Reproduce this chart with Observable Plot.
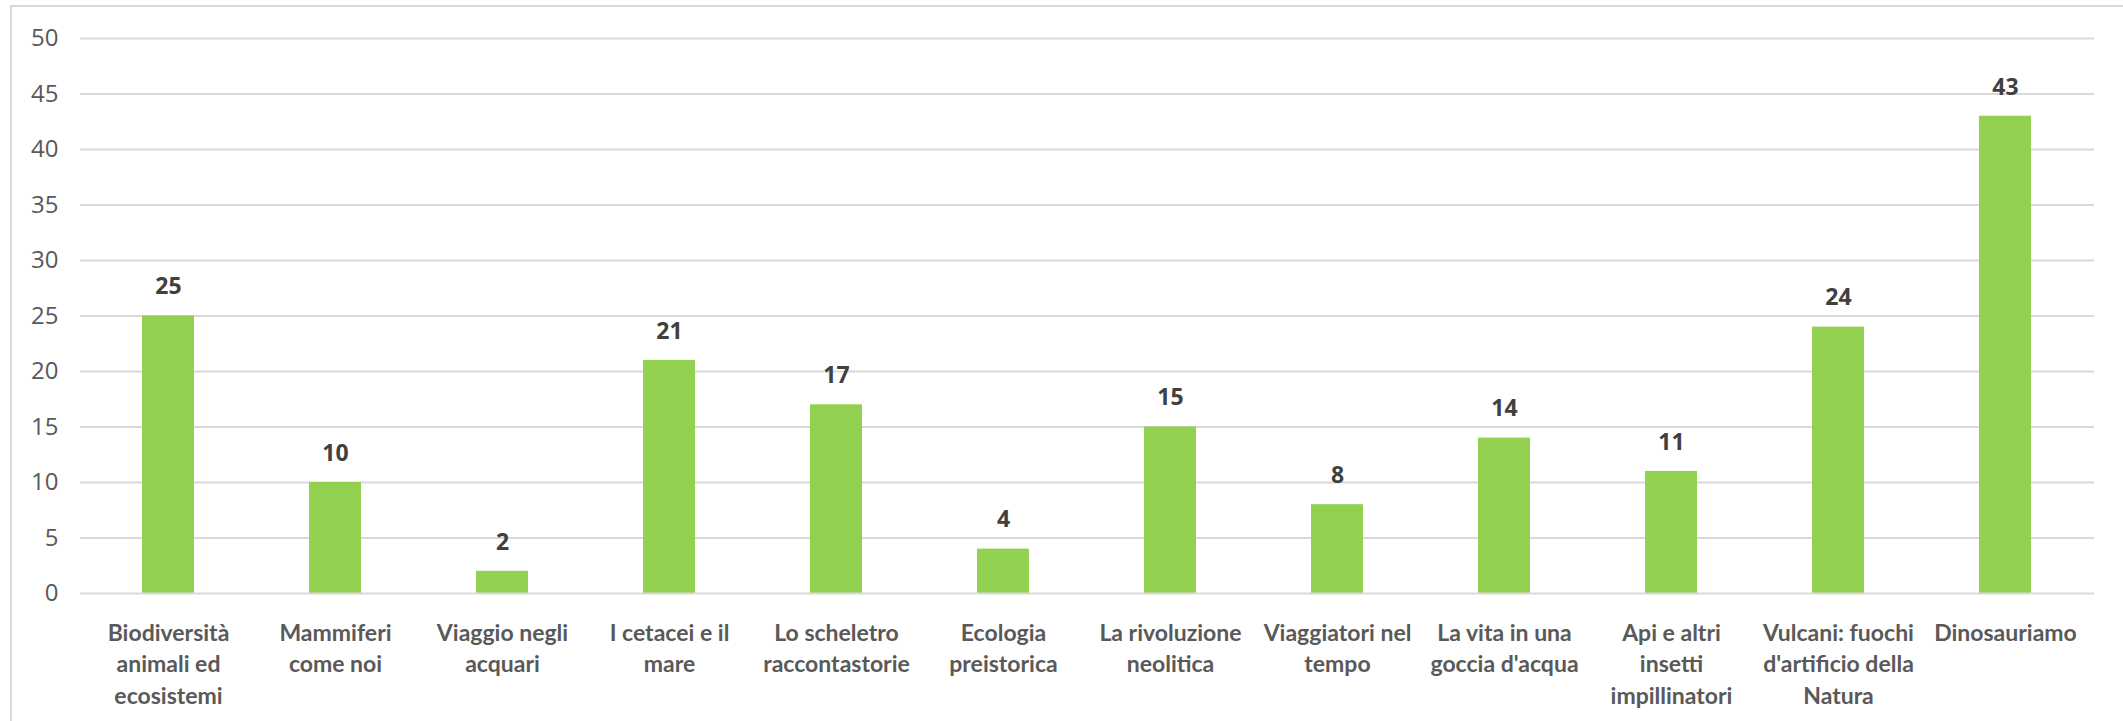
<!DOCTYPE html>
<html>
<head>
<meta charset="utf-8">
<script src="https://cdn.jsdelivr.net/npm/d3@7"></script>
<script src="https://cdn.jsdelivr.net/npm/@observablehq/plot@0.6"></script>
<style>
  html, body { margin: 0; padding: 0; background: #fff; }
  #frame { position: absolute; left: 0; top: 0; width: 2123px; height: 721px; overflow: hidden; }
  #border { position: absolute; left: 10px; top: 5px; width: 2123px; height: 760px; border-left: 2px solid #d9d9d9; border-top: 2px solid #d9d9d9; pointer-events: none; }
</style>
</head>
<body>
<div id="frame"><div id="border"></div></div>
<script>
const categories = [
  "Biodiversità animali ed ecosistemi",
  "Mammiferi come noi",
  "Viaggio negli acquari",
  "I cetacei e il mare",
  "Lo scheletro raccontastorie",
  "Ecologia preistorica",
  "La rivoluzione neolitica",
  "Viaggiatori nel tempo",
  "La vita in una goccia d'acqua",
  "Api e altri insetti impillinatori",
  "Vulcani: fuochi d'artificio della Natura",
  "Dinosauriamo"
];
const tickLabels = [
  "Biodiversità\nanimali ed\necosistemi",
  "Mammiferi\ncome noi",
  "Viaggio negli\nacquari",
  "I cetacei e il\nmare",
  "Lo scheletro\nraccontastorie",
  "Ecologia\npreistorica",
  "La rivoluzione\nneolitica",
  "Viaggiatori nel\ntempo",
  "La vita in una\ngoccia d'acqua",
  "Api e altri\ninsetti\nimpillinatori",
  "Vulcani: fuochi\nd'artificio della\nNatura",
  "Dinosauriamo"
];
const values = [25, 10, 2, 21, 17, 4, 15, 8, 14, 11, 24, 43];
const yTicks = [0, 5, 10, 15, 20, 25, 30, 35, 40, 45, 50];

const data = categories.map((c, i) => ({category: c, value: values[i]}));
const labelOf = new Map(categories.map((c, i) => [c, tickLabels[i]]));

const chart = Plot.plot({
  width: 2123,
  height: 721,
  marginTop: 38,
  marginBottom: 128,
  marginLeft: 80,
  marginRight: 29,
  style: {fontFamily: "Lato, 'Open Sans', sans-serif", background: "transparent"},
  x: {domain: categories, paddingInner: 0.686, paddingOuter: 0.34, align: 0.5},
  y: {domain: [0, 50]},
  marks: [
    Plot.ruleY(yTicks.filter(d => d > 0), {stroke: "#d9d9d9", strokeWidth: 2}),
    Plot.barY(data, {x: "category", y: "value", fill: "#92d050"}),
    Plot.ruleY([0], {stroke: "#d9d9d9", strokeWidth: 2}),
    Plot.text(data, {x: "category", y: "value", text: d => String(d.value), dy: -29, fontWeight: "bold", fontSize: 23, fill: "#404040", fontFamily: "'Open Sans', sans-serif"}),
    Plot.axisY({ticks: yTicks, tickSize: 0, tickPadding: 22, fontSize: 24, color: "#595959", fontFamily: "'Open Sans', sans-serif", label: null}),
    Plot.axisX({tickSize: 0, tickPadding: 25, fontSize: 23, fontWeight: "bold", color: "#595959", lineHeight: 1.37, tickFormat: d => labelOf.get(d), label: null, textOverflow: null})
  ]
});
chart.style.position = "absolute";
chart.style.left = "0px";
chart.style.top = "0px";
document.getElementById("frame").prepend(chart);
</script>
</body>
</html>
